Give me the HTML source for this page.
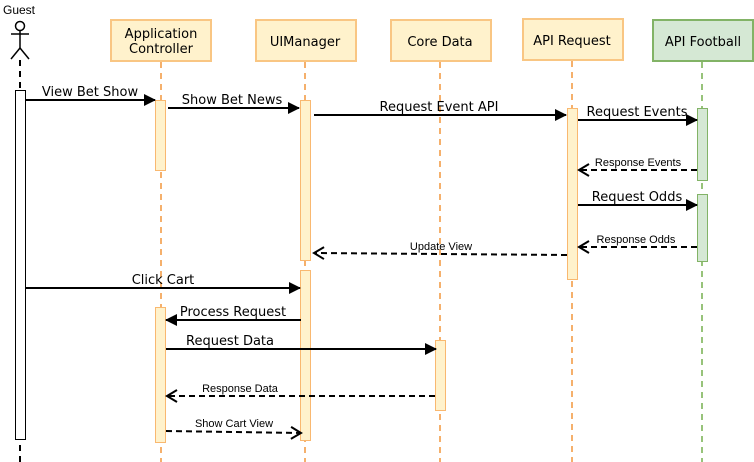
<!DOCTYPE html>
<html><head><meta charset="utf-8"><style>
html,body{margin:0;padding:0;background:#fff;}
svg{display:block;font-family:"DejaVu Sans","Liberation Sans",sans-serif;}
</style></head><body>
<svg width="754" height="462" viewBox="0 0 754 462" xmlns="http://www.w3.org/2000/svg">
<defs>
<marker id="f" markerWidth="12" markerHeight="12" refX="11" refY="6" orient="auto" markerUnits="userSpaceOnUse"><path d="M0,0 L12,6 L0,12 z" fill="#000"/></marker>
<marker id="o" markerWidth="14" markerHeight="14" refX="12" refY="7" orient="auto" markerUnits="userSpaceOnUse"><path d="M2,1 L12,7 L2,13" fill="none" stroke="#000" stroke-width="2"/></marker>
</defs>
<g stroke-width="2" stroke-dasharray="6,5" fill="none">
<line x1="20" y1="60" x2="20" y2="462" stroke="#000"/>
<line x1="161" y1="62" x2="161" y2="462" stroke="#f5b06c"/>
<line x1="305" y1="62" x2="305" y2="462" stroke="#f5b06c"/>
<line x1="440" y1="62" x2="440" y2="462" stroke="#f5b06c"/>
<line x1="572" y1="61" x2="572" y2="462" stroke="#f5b06c"/>
<line x1="702" y1="62" x2="702" y2="462" stroke="#97c37a"/>
</g>
<g stroke-width="2" font-size="13" text-anchor="middle">
<rect x="111" y="20" width="100" height="41" fill="#fff2cc" stroke="#f9c683"/>
<text x="161" y="38" stroke="none">Application</text>
<text x="161" y="53" stroke="none">Controller</text>
<rect x="256" y="20" width="100" height="41" fill="#fff2cc" stroke="#f9c683"/>
<text x="305" y="46" stroke="none">UIManager</text>
<rect x="391" y="20" width="100" height="41" fill="#fff2cc" stroke="#f9c683"/>
<text x="440" y="46" stroke="none">Core Data</text>
<rect x="523" y="19" width="100" height="41" fill="#fff2cc" stroke="#f9c683"/>
<text x="572" y="45" stroke="none">API Request</text>
<rect x="653" y="20" width="100" height="41" fill="#d5e8d4" stroke="#82b366"/>
<text x="703" y="46" stroke="none">API Football</text>
</g>
<text x="19" y="14" font-size="12" text-anchor="middle" font-family="Liberation Sans, sans-serif">Guest</text>
<g stroke="#000" stroke-width="1.5" fill="none">
<circle cx="20" cy="26" r="4.5" fill="#fff"/>
<line x1="20" y1="30" x2="20" y2="48"/>
<line x1="11" y1="34" x2="29" y2="34"/>
<line x1="20" y1="48" x2="11" y2="59"/>
<line x1="20" y1="48" x2="29" y2="59"/>
</g>
<rect x="15.5" y="90.5" width="10" height="349" fill="#fff" stroke="#000"/>
<g fill="#fff2cc" stroke="#f9b870">
<rect x="155.5" y="100.5" width="10" height="70"/>
<rect x="155.5" y="307.5" width="10" height="135"/>
<rect x="300.5" y="100.5" width="10" height="160"/>
<rect x="300.5" y="270.5" width="10" height="170"/>
<rect x="435.5" y="340.5" width="10" height="70"/>
<rect x="567.5" y="108.5" width="10" height="171"/>
</g>
<g fill="#d5e8d4" stroke="#82b366">
<rect x="697.5" y="108.5" width="10" height="72"/>
<rect x="697.5" y="194.5" width="10" height="67"/>
</g>
<g stroke="#000" stroke-width="2" fill="none">
<line x1="26" y1="100" x2="155" y2="100" marker-end="url(#f)"/>
<line x1="168" y1="108" x2="299" y2="108" marker-end="url(#f)"/>
<line x1="314" y1="115" x2="566" y2="115" marker-end="url(#f)"/>
<line x1="578" y1="120" x2="697" y2="120" marker-end="url(#f)"/>
<line x1="578" y1="205" x2="697" y2="205" marker-end="url(#f)"/>
<line x1="26" y1="288" x2="300" y2="288" marker-end="url(#f)"/>
<line x1="301" y1="320" x2="166" y2="320" marker-end="url(#f)"/>
<line x1="166" y1="349" x2="436" y2="349" marker-end="url(#f)"/>
<g stroke-dasharray="6,4">
<line x1="697" y1="170" x2="579" y2="170" marker-end="url(#o)"/>
<line x1="697" y1="247" x2="579" y2="247" marker-end="url(#o)"/>
<line x1="567" y1="255" x2="314" y2="253" marker-end="url(#o)"/>
<line x1="435" y1="396" x2="167" y2="396" marker-end="url(#o)"/>
<line x1="166" y1="431" x2="301" y2="433" marker-end="url(#o)"/>
</g>
</g>
<g font-size="13" text-anchor="middle">
<text x="90" y="96">View Bet Show</text>
<text x="232" y="104">Show Bet News</text>
<text x="439" y="111">Request Event API</text>
<text x="637" y="116">Request Events</text>
<text x="637" y="201">Request Odds</text>
<text x="163" y="284">Click Cart</text>
<text x="233" y="316">Process Request</text>
<text x="230" y="345">Request Data</text>
</g>
<g font-size="11" text-anchor="middle" font-family="Liberation Sans, sans-serif">
<text x="638" y="166">Response Events</text>
<text x="636" y="243">Response Odds</text>
<text x="441" y="250">Update View</text>
<text x="240" y="392">Response Data</text>
<text x="234" y="427">Show Cart View</text>
</g>
</svg>
</body></html>
